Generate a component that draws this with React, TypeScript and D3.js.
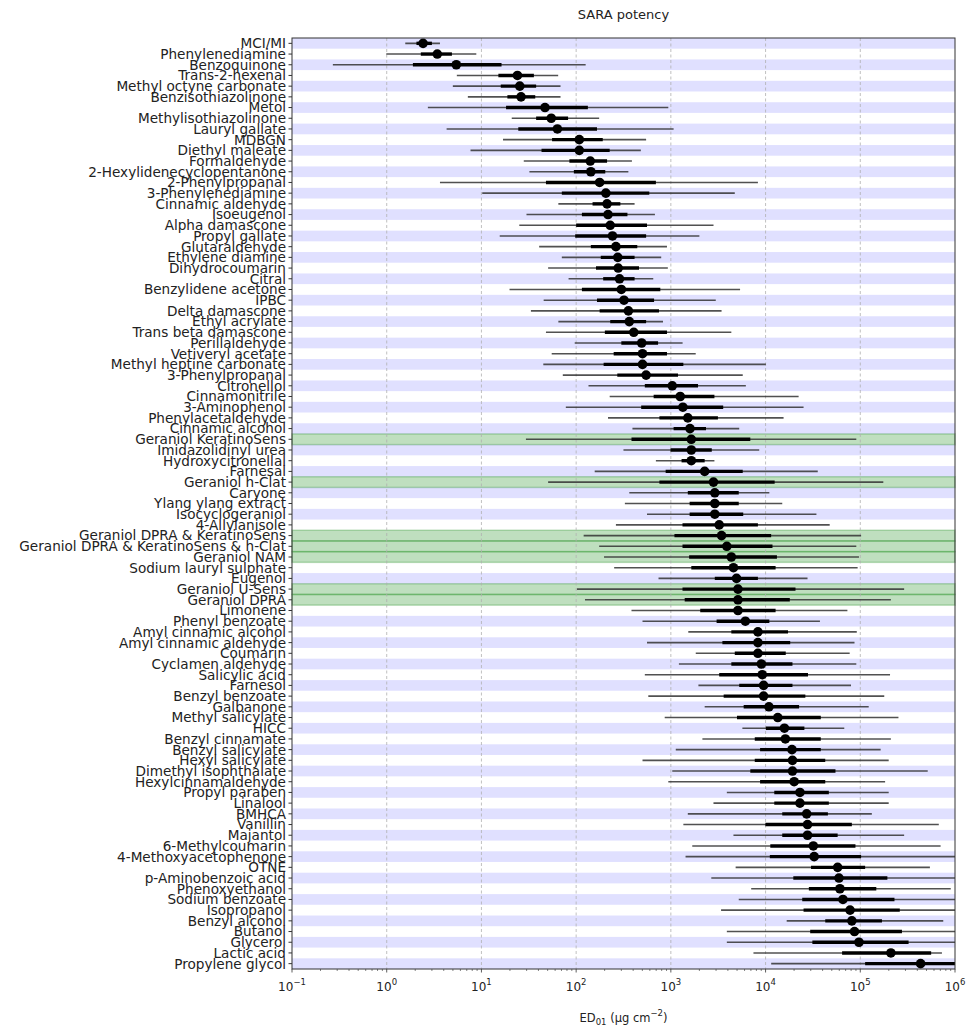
import React, { useEffect, useRef } from 'react';
import * as d3 from 'd3';

// chemicals, top to bottom
const names: string[] = [
  'MCI/MI', 'Phenylenediamine', 'Benzoquinone', 'Trans-2-hexenal', 'Methyl octyne carbonate',
  'Benzisothiazolinone', 'Metol', 'Methylisothiazolinone', 'Lauryl gallate', 'MDBGN',
  'Diethyl maleate', 'Formaldehyde', '2-Hexylidenecyclopentanone', '2-Phenylpropanal', '3-Phenylenediamine',
  'Cinnamic aldehyde', 'Isoeugenol', 'Alpha damascone', 'Propyl gallate', 'Glutaraldehyde',
  'Ethylene diamine', 'Dihydrocoumarin', 'Citral', 'Benzylidene acetone', 'IPBC',
  'Delta damascone', 'Ethyl acrylate', 'Trans beta damascone', 'Perillaldehyde', 'Vetiveryl acetate',
  'Methyl heptine carbonate', '3-Phenylpropanal', 'Citronellol', 'Cinnamonitrile', '3-Aminophenol',
  'Phenylacetaldehyde', 'Cinnamic alcohol', 'Geraniol KeratinoSens', 'Imidazolidinyl urea', 'Hydroxycitronellal',
  'Farnesal', 'Geraniol h-Clat', 'Caryone', 'Ylang ylang extract', 'Isocyclogeraniol',
  '4-Allylanisole', 'Geraniol DPRA & KeratinoSens', 'Geraniol DPRA & KeratinoSens & h-Clat', 'Geraniol NAM', 'Sodium lauryl sulphate',
  'Eugenol', 'Geraniol U-Sens', 'Geraniol DPRA', 'Limonene', 'Phenyl benzoate',
  'Amyl cinnamic alcohol', 'Amyl cinnamic aldehyde', 'Coumarin', 'Cyclamen aldehyde', 'Salicylic acid',
  'Farnesol', 'Benzyl benzoate', 'Galbanone', 'Methyl salicylate', 'HICC',
  'Benzyl cinnamate', 'Benzyl salicylate', 'Hexyl salicylate', 'Dimethyl isophthalate', 'Hexylcinnamaldehyde',
  'Propyl paraben', 'Linalool', 'BMHCA', 'Vanillin', 'Majantol',
  '6-Methylcoumarin', '4-Methoxyacetophenone', 'OTNE', 'p-Aminobenzoic acid', 'Phenoxyethanol',
  'Sodium benzoate', 'Isopropanol', 'Benzyl alcohol', 'Butanol', 'Glycerol',
  'Lactic acid', 'Propylene glycol',
];

// median ED01
const median: number[] = [
  2.42, 3.42, 5.43, 24.0, 25.4, 26.2, 46.9, 54.6, 63.4, 108,
  108, 141, 143, 177, 206, 212, 217, 229, 242, 263,
  275, 278, 287, 300, 320, 356, 364, 406, 492, 502,
  502, 548, 1035, 1256, 1340, 1510, 1592, 1644, 1644, 1644,
  2275, 2818, 2910, 2910, 2910, 3240, 3430, 3900, 4350, 4580,
  4940, 5110, 5110, 5110, 6120, 8300, 8300, 8300, 9030, 9230,
  9530, 9530, 10860, 13460, 15810, 16180, 19010, 19230, 19230, 20040,
  23070, 23070, 27160, 27730, 27730, 31920, 32600, 57680, 59570, 60950,
  65610, 77980, 81470, 86900, 96830, 210400, 433500,
];

// inner (thick) interval
const lo50: number[] = [
  2.06, 2.29, 1.89, 15.1, 16.0, 18.8, 18.2, 37.8, 24.5, 55.7,
  43.1, 84.9, 94.6, 48.0, 70.6, 149, 115, 100, 97.7, 143,
  182, 162, 193, 115, 166, 177, 229, 201, 300, 249,
  195, 272, 531, 658, 486, 757, 1069, 384, 991, 1297,
  881, 757, 1510, 1578, 1578, 1327, 1091, 1327, 1560, 1644,
  2910, 1327, 1400, 2042, 3040, 4350, 3500, 4730, 4350, 3240,
  5270, 3610, 5870, 4990, 10070, 7690, 8750, 7690, 6900, 8750,
  12360, 12360, 15000, 9950, 15000, 11220, 11090, 30200, 19630, 28640,
  24380, 25180, 42660, 29580, 31190, 64270, 112500,
];
const hi50: number[] = [
  3.0, 4.88, 16.3, 35.8, 37.8, 37.0, 133, 82.2, 166, 191,
  226, 212, 203, 695, 592, 293, 348, 560, 548, 442,
  414, 461, 414, 774, 665, 750, 548, 910, 733, 910,
  1355, 1190, 1936, 2884, 3570, 3140, 2350, 6900, 2704, 2275,
  5740, 12470, 5210, 5210, 5810, 8300, 11450, 11830, 13180, 12760,
  8300, 20700, 18030, 12760, 10960, 17260, 18200, 16330, 19230, 28050,
  19230, 26300, 22590, 38280, 25700, 38280, 38280, 42660, 54700, 42660,
  46560, 46560, 45500, 81470, 57680, 88920, 102000, 112500, 193200, 147600,
  229600, 261200, 169400, 275400, 323600, 560000, 1300000,
];

// outer (thin) interval
const lo95: number[] = [
  1.57, 0.99, 0.27, 5.5, 4.99, 7.19, 2.72, 20.9, 4.29, 16.9,
  7.67, 28.0, 32.1, 3.65, 10.2, 64.9, 29.9, 25.1, 15.6, 40.7,
  70.6, 50.6, 83.2, 19.8, 45.4, 33.3, 64.9, 48.0, 96.6, 55.2,
  45.0, 72.3, 135, 226, 77.8, 217, 393, 29.5, 316, 695,
  157, 50.6, 364, 327, 560, 263, 120, 175, 197, 252,
  741, 102, 124, 384, 502, 1528, 560, 1832, 1216, 531,
  1954, 578, 2275, 861, 5690, 2153, 1127, 502, 1035, 940,
  3900, 2818, 1510, 1355, 4580, 1683, 1429, 4830, 2673, 7050,
  5210, 3390, 16710, 3900, 3900, 7450, 11460,
];
const hi95: number[] = [
  3.65, 8.83, 126, 64.6, 68.4, 68.4, 940, 175, 1069, 548,
  482, 388, 356, 8300, 4730, 414, 679, 2820, 2000, 910,
  791, 929, 652, 5380, 2980, 3430, 826, 4350, 1330, 1830,
  10070, 5740, 6190, 22330, 25180, 15490, 5270, 90780, 8570, 2884,
  35560, 175000, 10960, 15000, 34430, 47530, 102000, 90780, 96830, 93760,
  27730, 290400, 210400, 73110, 37500, 91830, 86900, 77270, 90780, 206100,
  79800, 179100, 122700, 252900, 67760, 210400, 164100, 199500, 515200, 182800,
  199500, 199500, 132400, 674500, 290400, 704700, 1200000, 543300, 1500000, 901600,
  1300000, 1500000, 751600, 1600000, 2000000, 727800, 2500000,
];

const xDecades: number[] = [-1, 0, 1, 2, 3, 4, 5, 6];

const W = 969, H = 1032;
const M = { left: 292, right: 14, top: 38, bottom: 63 };

const App = () => {
  const svgRef = useRef<SVGSVGElement>(null);

  useEffect(() => {
    const svg = d3.select(svgRef.current);
    svg.selectAll('*').remove();

    const n = names.length;
    const x0 = M.left, x1 = W - M.right;
    const y0 = M.top, y1 = H - M.bottom;

    const x = d3.scaleLog().domain([0.1, 1e6]).range([x0, x1]);
    const y = d3.scaleLinear().domain([-0.5, n - 0.5]).range([y0, y1]);
    const font = 'DejaVu Sans, sans-serif';

    svg.append('clipPath').attr('id', 'plotclip')
      .append('rect').attr('x', x0).attr('y', y0).attr('width', x1 - x0).attr('height', y1 - y0);

    // row stripes, geraniol rows in green
    svg.append('g').selectAll('rect')
      .data(names)
      .enter()
      .append('rect')
      .attr('x', x0)
      .attr('width', x1 - x0)
      .attr('y', (d, i) => y(i - 0.5))
      .attr('height', y(1) - y(0))
      .attr('fill', (d, i) => d.startsWith('Geraniol') ? 'rgba(0,128,0,0.25)' : (i % 2 === 0 ? 'rgba(0,0,255,0.12)' : 'none'))
      .attr('stroke', (d) => d.startsWith('Geraniol') ? 'rgba(0,128,0,0.25)' : 'none')
      .attr('stroke-width', 1.5);

    // vertical grid
    svg.append('g').selectAll('line')
      .data(xDecades.slice(1, -1))
      .enter()
      .append('line')
      .attr('x1', (d) => x(Math.pow(10, d)))
      .attr('x2', (d) => x(Math.pow(10, d)))
      .attr('y1', y0).attr('y2', y1)
      .attr('stroke', '#b0b0b0')
      .attr('stroke-width', 0.8)
      .attr('stroke-dasharray', '3,2.5');

    const rows = names.map((name, i) => ({ name, i, med: median[i], a: lo50[i], b: hi50[i], c: lo95[i], d: hi95[i] }));
    const g = svg.append('g').attr('clip-path', 'url(#plotclip)');

    g.selectAll('line.outer')
      .data(rows)
      .enter()
      .append('line')
      .attr('class', 'outer')
      .attr('x1', (r) => x(r.c)).attr('x2', (r) => x(r.d))
      .attr('y1', (r) => y(r.i)).attr('y2', (r) => y(r.i))
      .attr('stroke', '#333')
      .attr('stroke-opacity', 0.85)
      .attr('stroke-width', 1.6);

    g.selectAll('line.inner')
      .data(rows)
      .enter()
      .append('line')
      .attr('class', 'inner')
      .attr('x1', (r) => x(r.a)).attr('x2', (r) => x(r.b))
      .attr('y1', (r) => y(r.i)).attr('y2', (r) => y(r.i))
      .attr('stroke', '#000')
      .attr('stroke-width', 3.4);

    g.selectAll('circle')
      .data(rows)
      .enter()
      .append('circle')
      .attr('cx', (r) => x(r.med))
      .attr('cy', (r) => y(r.i))
      .attr('r', 4.8)
      .attr('fill', '#000');

    // frame
    svg.append('rect')
      .attr('x', x0).attr('y', y0).attr('width', x1 - x0).attr('height', y1 - y0)
      .attr('fill', 'none').attr('stroke', '#333').attr('stroke-width', 1);

    // y ticks and labels
    const yl = svg.append('g');
    yl.selectAll('line')
      .data(rows)
      .enter()
      .append('line')
      .attr('x1', x0 - 3.5).attr('x2', x0)
      .attr('y1', (r) => y(r.i)).attr('y2', (r) => y(r.i))
      .attr('stroke', '#333');
    yl.selectAll('text')
      .data(rows)
      .enter()
      .append('text')
      .attr('x', x0 - 6)
      .attr('y', (r) => y(r.i))
      .attr('dy', '0.36em')
      .attr('text-anchor', 'end')
      .style('font-family', font)
      .style('font-size', '13.6px')
      .attr('fill', '#222')
      .text((r) => r.name);

    // x ticks
    const minor: number[] = [];
    xDecades.slice(0, -1).forEach((k) => {
      for (let m = 2; m < 10; m++) minor.push(m * Math.pow(10, k));
    });
    const xa = svg.append('g');
    xa.selectAll('line.minor')
      .data(minor)
      .enter()
      .append('line')
      .attr('x1', (d) => x(d)).attr('x2', (d) => x(d))
      .attr('y1', y1).attr('y2', y1 + 2)
      .attr('stroke', '#333').attr('stroke-width', 0.6);
    xa.selectAll('line.major')
      .data(xDecades)
      .enter()
      .append('line')
      .attr('x1', (d) => x(Math.pow(10, d))).attr('x2', (d) => x(Math.pow(10, d)))
      .attr('y1', y1).attr('y2', y1 + 3.5)
      .attr('stroke', '#333').attr('stroke-width', 0.8);
    const tl = xa.selectAll('text')
      .data(xDecades)
      .enter()
      .append('text')
      .attr('x', (d) => x(Math.pow(10, d)))
      .attr('y', y1 + 22)
      .attr('text-anchor', 'middle')
      .style('font-family', font)
      .style('font-size', '12px')
      .attr('fill', '#222');
    tl.append('tspan').text('10');
    tl.append('tspan').attr('dy', -6).style('font-size', '8.5px').text((d) => d < 0 ? '\u2212' + Math.abs(d) : String(d));

    // axis label
    const xl = svg.append('text')
      .attr('x', (x0 + x1) / 2)
      .attr('y', H - 10)
      .attr('text-anchor', 'middle')
      .style('font-family', font)
      .style('font-size', '11.5px')
      .attr('fill', '#222');
    xl.append('tspan').text('ED');
    xl.append('tspan').attr('dy', 3).style('font-size', '8.5px').text('01');
    xl.append('tspan').attr('dy', -3).text(' (\u03bcg cm');
    xl.append('tspan').attr('dy', -6).style('font-size', '8.5px').text('\u22122');
    xl.append('tspan').attr('dy', 6).text(')');

    svg.append('text')
      .attr('x', (x0 + x1) / 2)
      .attr('y', 19)
      .attr('text-anchor', 'middle')
      .style('font-family', font)
      .style('font-size', '13px')
      .attr('fill', '#222')
      .text('SARA potency');
  }, []);

  return (
    <div style={{ position: 'absolute', left: 0, top: 0 }}>
      <svg ref={svgRef} width={W} height={H} />
    </div>
  );
};

export default App;
